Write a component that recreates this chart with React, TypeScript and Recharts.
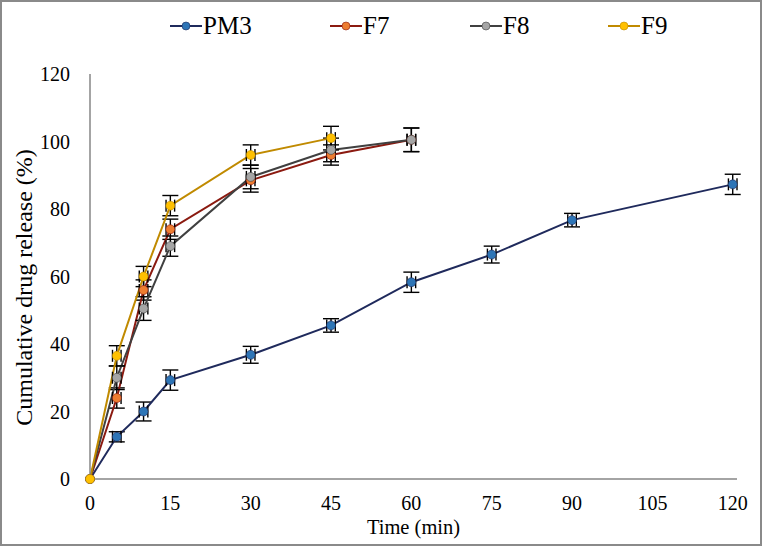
import { ComposedChart, Line, Scatter, XAxis, YAxis, ErrorBar, Legend } from 'recharts';

const times = [0, 5, 10, 15, 30, 45, 60, 75, 90, 120];

const pm3 = [0, 12.5, 20, 29.3, 36.8, 45.5, 58.3, 66.5, 76.7, 87.3];
const pm3Err = [0, 1.5, 2.8, 3, 2.5, 2, 3, 2.5, 2, 3];

const f7 = [0, 24, 56, 74, 88.5, 96, 100.5];
const f7Err = [0, 3, 3, 3, 3.5, 3, 3.5];

const f8 = [0, 30, 50.5, 69, 89.5, 97.5, 100.5];
const f8Err = [0, 3.5, 3.5, 3, 3.5, 3.5, 3.5];

const f9 = [0, 36.5, 60, 81, 96, 101];
const f9Err = [0, 3, 3, 3, 3, 3.5];

const timeErr = 0.8;

const xTicks = [0, 15, 30, 45, 60, 75, 90, 105, 120];
const yTicks = [0, 20, 40, 60, 80, 100, 120];

const rows = (vals: number[], errs: number[]) =>
  vals.map((v, i) => ({ t: times[i], v, e: errs[i], xe: i === 0 ? 0 : timeErr }));

const series = [
  { name: 'PM3', data: rows(pm3, pm3Err), line: '#1f2a5c', dot: '#2e75b6' },
  { name: 'F7', data: rows(f7, f7Err), line: '#8b1a10', dot: '#ed7d31' },
  { name: 'F8', data: rows(f8, f8Err), line: '#404040', dot: '#a5a5a5' },
  { name: 'F9', data: rows(f9, f9Err), line: '#c08a00', dot: '#ffc000' },
];

const font = '"Liberation Serif", "Times New Roman", serif';

const LegendContent = () => (
  <div style={{ position: 'relative', height: 30, fontFamily: font, fontSize: 25, color: '#000' }}>
    {series.map((s, i) => (
      <div
        key={s.name}
        style={{ position: 'absolute', left: [168, 328, 468, 606][i], top: 0, display: 'flex', alignItems: 'center' }}
      >
        <svg width={32} height={14}>
          <line x1={0} y1={7} x2={32} y2={7} stroke={s.line} strokeWidth={2} />
          <circle cx={16} cy={7} r={4} fill={s.dot} stroke={s.line} strokeWidth={0.6} />
        </svg>
        <span style={{ marginLeft: 1 }}>{s.name}</span>
      </div>
    ))}
  </div>
);

const YTitle = (props: any) => {
  const vb = props.viewBox || {};
  const cx = 22;
  const cy = vb.y + vb.height / 2 + 11;
  return (
    <text
      x={cx}
      y={cy}
      transform={`rotate(-90 ${cx} ${cy})`}
      textAnchor="middle"
      dominantBaseline="central"
      fill="#000"
      fontSize={24}
      fontFamily={font}
    >
      Cumulative drug release (%)
    </text>
  );
};

export default function App() {
  return (
    <div
      style={{
        position: 'absolute',
        left: 0,
        top: 0,
        width: 762,
        height: 546,
        border: '2px solid #8a8a8a',
        boxSizing: 'border-box',
        background: '#fff',
        fontFamily: font,
      }}
    >
      <ComposedChart
        width={758}
        height={542}
        margin={{ top: 42, right: 23, bottom: 0, left: 28 }}
        style={{ fontFamily: font }}
      >
        <XAxis
          dataKey="t"
          type="number"
          domain={[0, 120]}
          ticks={xTicks}
          allowDuplicatedCategory={false}
          axisLine={{ stroke: '#868686', strokeWidth: 1.5 }}
          tickLine={false}
          tick={{ fill: '#000', fontSize: 20, fontFamily: font }}
          tickMargin={11}
          height={65}
          label={{ value: 'Time (min)', position: 'insideBottom', offset: 10, fill: '#000', fontSize: 20.5, fontFamily: font }}
        />
        <YAxis
          type="number"
          domain={[0, 120]}
          ticks={yTicks}
          axisLine={{ stroke: '#868686', strokeWidth: 1.5 }}
          tickLine={false}
          tick={{ fill: '#000', fontSize: 20, fontFamily: font }}
          tickMargin={14}
          width={60}
          label={<YTitle />}
        />
        <Legend verticalAlign="top" wrapperStyle={{ top: 10, left: 0, width: 758 }} content={<LegendContent />} />
        {series.map((s) => (
          <Line
            key={s.name}
            name={s.name}
            data={s.data}
            dataKey="v"
            stroke={s.line}
            strokeWidth={2}
            dot={false}
            activeDot={false}
            isAnimationActive={false}
          >
            <ErrorBar dataKey="e" direction="y" width={8} stroke="#000" strokeWidth={1.4} />
          </Line>
        ))}
        {series.map((s) => (
          <Scatter
            key={s.name + '-pts'}
            name={s.name + ' points'}
            legendType="none"
            data={s.data}
            dataKey="v"
            fill={s.dot}
            shape={(p: any) => (
              <circle cx={p.cx} cy={p.cy} r={4.5} fill={s.dot} stroke={s.line} strokeWidth={0.6} />
            )}
            isAnimationActive={false}
          >
            <ErrorBar dataKey="xe" direction="x" width={6} stroke="#000" strokeWidth={1.4} />
          </Scatter>
        ))}
      </ComposedChart>
    </div>
  );
}
